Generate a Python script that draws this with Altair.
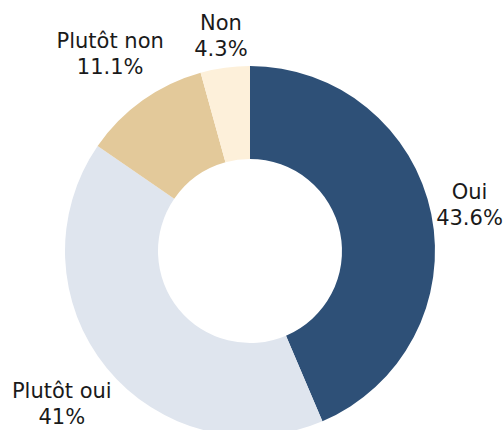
import altair as alt
import pandas as pd

# Data
categories = ["Oui", "Plutôt oui", "Plutôt non", "Non"]
values = [43.6, 41, 11.1, 4.3]
value_labels = ["43.6%", "41%", "11.1%", "4.3%"]
colors = ["#2E5077", "#DFE5EE", "#E3C99A", "#FDF0DA"]

# Layout (label distance from centre, in pixels)
label_radius = {"Oui": 224, "Plutôt oui": 243, "Plutôt non": 241, "Non": 216}

df = pd.DataFrame({
    "cat": categories,
    "val": values,
    "order": list(range(len(categories))),
    "label": [f"{c}\n{v}" for c, v in zip(categories, value_labels)],
})
df["lr"] = df["cat"].map(label_radius)

arcs = alt.Chart(df).mark_arc(outerRadius=185, innerRadius=92, stroke=None).encode(
    theta=alt.Theta("val:Q", stack=True),
    order=alt.Order("order:Q"),
    color=alt.Color("cat:N", scale=alt.Scale(domain=categories, range=colors), legend=None),
)

text = alt.Chart(df).transform_joinaggregate(
    total="sum(val)"
).transform_window(
    cum="sum(val)", sort=[alt.SortField("order")]
).transform_calculate(
    mid="(datum.cum - datum.val / 2) / datum.total"
).mark_text(
    font="DejaVu Sans", fontSize=21, lineBreak="\n", lineHeight=26,
    color="#1a1a1a", align="center", baseline="middle", dy=-13,
).encode(
    theta=alt.Theta("mid:Q", stack=None, scale=alt.Scale(domain=[0, 1], range=[0, 6.283185307179586])),
    radius=alt.Radius("lr:Q", scale=None),
    text="label:N",
)

chart = alt.layer(arcs, text).resolve_scale(theta="independent").properties(
    width=500, height=358,
    padding={"left": 0, "top": 72, "right": 4, "bottom": 0},
    autosize=alt.AutoSizeParams(type="none"),
).configure_view(stroke=None)

chart.save("out.html", embed_options={"renderer": "svg", "actions": False})
